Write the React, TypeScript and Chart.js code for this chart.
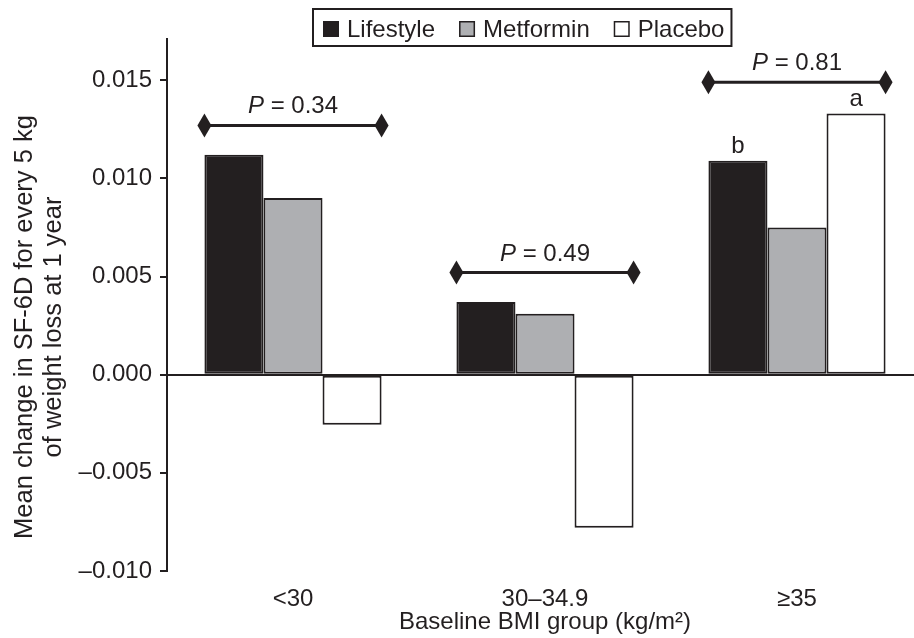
import React, { useEffect, useRef } from 'react';
import { Chart, registerables } from 'chart.js';

Chart.register(...registerables);

const categories = ['<30', '30–34.9', '≥35'];
const seriesNames = ['Lifestyle', 'Metformin', 'Placebo'];
const lifestyle = [0.0112, 0.0037, 0.0109];
const metformin = [0.009, 0.0031, 0.0075];
const placebo = [-0.00255, -0.0078, 0.0133];
const pValueLabels = ['0.34', '0.49', '0.81'];
const pLineLevels = [0.0127, 0.0052, 0.0149];
const letterMarks = [
  { category: 2, series: 0, text: 'b' },
  { category: 2, series: 2, text: 'a' },
];
const yTicks = [-0.01, -0.005, 0, 0.005, 0.01, 0.015];
const yMin = -0.01;
const yMax = 0.0171;
const yTitleLines = ['Mean change in SF-6D for every 5 kg', 'of weight loss at 1 year'];
const xTitle = 'Baseline BMI group (kg/m²)';

const INK = '#231f20';
const FILLS = ['#231f20', '#aeafb2', '#ffffff'];
const FONT = '"Liberation Sans", Arial, Helvetica, sans-serif';

const annotationPlugin = {
  id: 'annotations',
  afterDatasetsDraw(chart: any) {
    const ctx = chart.ctx;
    const y = chart.scales.y;
    ctx.save();
    pLineLevels.forEach((lvl, i) => {
      const first = chart.getDatasetMeta(0).data[i];
      const last = chart.getDatasetMeta(2).data[i];
      const left = first.x - first.width / 2;
      const right = last.x + last.width / 2;
      const py = y.getPixelForValue(lvl);
      ctx.strokeStyle = INK;
      ctx.lineWidth = 3;
      ctx.beginPath();
      ctx.moveTo(left, py);
      ctx.lineTo(right, py);
      ctx.stroke();
      ctx.fillStyle = INK;
      [left, right].forEach((cx) => {
        ctx.beginPath();
        ctx.moveTo(cx, py - 12);
        ctx.lineTo(cx + 7, py);
        ctx.lineTo(cx, py + 12);
        ctx.lineTo(cx - 7, py);
        ctx.closePath();
        ctx.fill();
      });
      const center = (left + right) / 2;
      const italic = 'italic 24px ' + FONT;
      const normal = '24px ' + FONT;
      ctx.font = italic;
      const wP = ctx.measureText('P').width;
      ctx.font = normal;
      const rest = ' = ' + pValueLabels[i];
      const wR = ctx.measureText(rest).width;
      const sx = center - (wP + wR) / 2;
      ctx.textBaseline = 'alphabetic';
      ctx.textAlign = 'left';
      ctx.font = italic;
      ctx.fillText('P', sx, py - 12);
      ctx.font = normal;
      ctx.fillText(rest, sx + wP, py - 12);
    });
    letterMarks.forEach((m) => {
      const el = chart.getDatasetMeta(m.series).data[m.category];
      ctx.font = '24px ' + FONT;
      ctx.fillStyle = INK;
      ctx.textAlign = 'center';
      ctx.textBaseline = 'alphabetic';
      ctx.fillText(m.text, el.x, el.y - 8);
    });
    ctx.restore();
  },
  afterDraw(chart: any) {
    const ctx = chart.ctx;
    ctx.save();
    ctx.font = '24px ' + FONT;
    ctx.textBaseline = 'middle';
    ctx.textAlign = 'left';
    const cy = 29;
    let x = 323;
    const startX = x;
    seriesNames.forEach((name, i) => {
      ctx.fillStyle = FILLS[i];
      ctx.fillRect(x, cy - 8, 16, 16);
      ctx.strokeStyle = INK;
      ctx.lineWidth = 1.5;
      ctx.strokeRect(x + 0.75, cy - 7.25, 14.5, 14.5);
      ctx.fillStyle = INK;
      ctx.fillText(name, x + 24, cy + 1);
      x += 24 + ctx.measureText(name).width;
      if (i < seriesNames.length - 1) x += 24;
    });
    ctx.strokeStyle = INK;
    ctx.lineWidth = 2;
    ctx.strokeRect(startX - 10, 9, x - startX + 17, 37);
    ctx.translate(0, 327);
    ctx.rotate(-Math.PI / 2);
    ctx.textAlign = 'center';
    ctx.fillStyle = INK;
    ctx.font = '25.5px ' + FONT;
    ctx.fillText(yTitleLines[0], 0, 25);
    ctx.fillText(yTitleLines[1], 0, 54);
    ctx.restore();
  },
};

export default function App() {
  const ref = useRef<HTMLCanvasElement | null>(null);
  useEffect(() => {
    if (!ref.current) return;
    const chart = new Chart(ref.current, {
      type: 'bar',
      data: {
        labels: categories,
        datasets: [lifestyle, metformin, placebo].map((d, i) => ({
          label: seriesNames[i],
          data: d,
          backgroundColor: FILLS[i],
          borderColor: INK,
          borderWidth: 2,
          borderSkipped: false,
          barPercentage: 1,
          categoryPercentage: 0.703,
        })),
      },
      options: {
        responsive: false,
        animation: false,
        layout: { padding: { top: 39, right: 7, left: 0, bottom: 0 } },
        plugins: { legend: { display: false }, tooltip: { enabled: false }, title: { display: false } },
        scales: {
          x: {
            grid: { display: false },
            border: { display: false },
            ticks: { color: INK, font: { family: FONT, size: 24 }, padding: 6, maxRotation: 0 },
            title: { display: true, text: xTitle, color: INK, font: { family: FONT, size: 24 }, padding: { top: 0, bottom: 1 } },
            afterFit: (s: any) => { s.height = 67; },
          },
          y: {
            min: yMin,
            max: yMax,
            afterBuildTicks: (s: any) => { s.ticks = yTicks.map((v) => ({ value: v })); },
            afterFit: (s: any) => { s.width = 167; },
            grid: {
              drawOnChartArea: true,
              color: (c: any) => (c.tick && Math.abs(c.tick.value) < 1e-9 ? INK : 'rgba(0,0,0,0)'),
              lineWidth: 2,
              tickLength: 7,
              tickColor: INK,
              tickWidth: 2,
            },
            border: { display: true, color: INK, width: 2 },
            ticks: {
              color: INK,
              padding: 8,
              font: { family: FONT, size: 24 },
              callback: (v: any) => {
                const n = Number(v);
                const s = Math.abs(n).toFixed(3);
                return n < -1e-9 ? '–' + s : s;
              },
            },
          },
        },
      },
      plugins: [annotationPlugin],
    } as any);
    return () => chart.destroy();
  }, []);
  return (
    <div style={{ position: 'fixed', left: 0, top: 0, width: 914, height: 638, overflow: 'hidden', background: '#fff' }}>
      <canvas ref={ref} width={930} height={638} style={{ display: 'block' }} />
    </div>
  );
}
